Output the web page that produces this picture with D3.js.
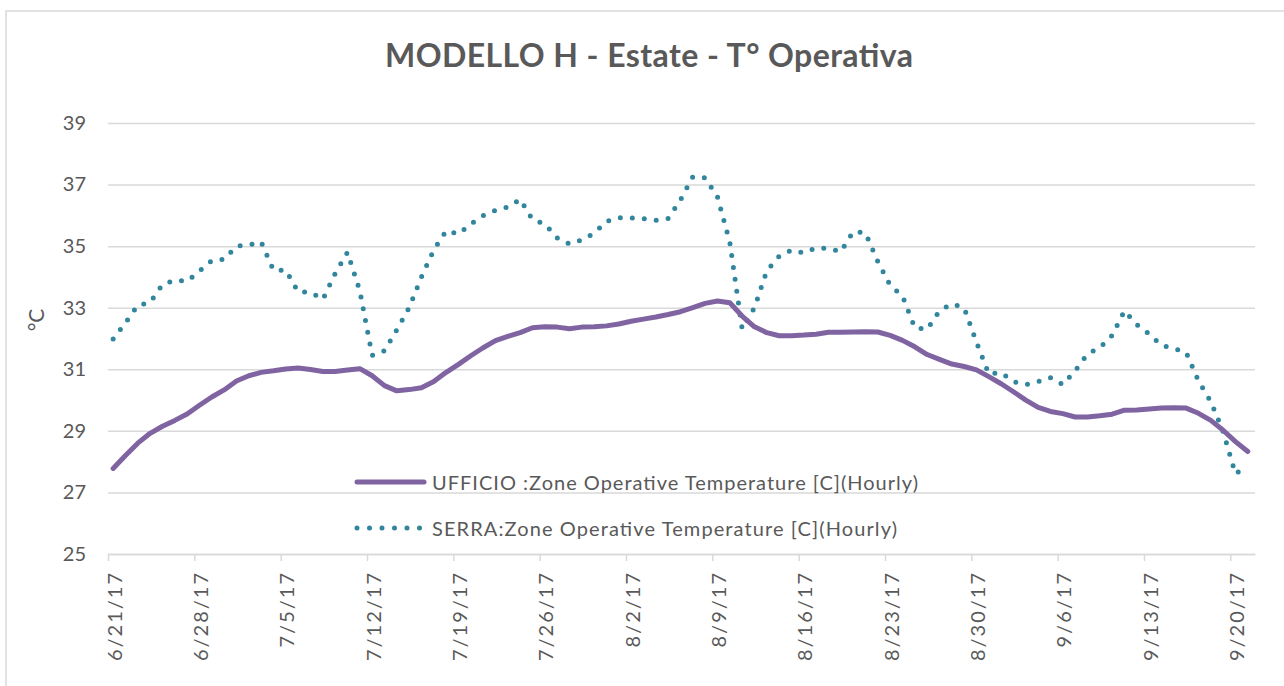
<!DOCTYPE html>
<html>
<head>
<meta charset="utf-8">
<script src="https://cdn.jsdelivr.net/npm/d3@7"></script>
<style>
  html, body { margin: 0; padding: 0; background: #fff; }
  svg { display: block; font-family: Lato, "Open Sans", sans-serif; }
</style>
</head>
<body>
<svg id="chart" width="1284" height="686"></svg>
<script>
// Chart text
const chartTitle = "MODELLO H - Estate - T° Operativa";
const yAxisTitle = "°C";
const seriesNames = [
  "UFFICIO :Zone Operative Temperature [C](Hourly)",
  "SERRA:Zone Operative Temperature [C](Hourly)"
];

// Daily series, one value per day starting 2017-06-21 (93 days)
const firstDay = new Date(2017, 5, 21);
const ufficio = [
  27.78, 28.20, 28.60, 28.92, 29.15, 29.34, 29.55, 29.83, 30.10, 30.33,
  30.62, 30.79, 30.90, 30.95, 31.01, 31.04, 30.99, 30.93, 30.93, 30.98,
  31.02, 30.79, 30.47, 30.30, 30.34, 30.40, 30.60, 30.90, 31.16, 31.44,
  31.70, 31.93, 32.07, 32.19, 32.35, 32.38, 32.37, 32.32, 32.37, 32.38,
  32.41, 32.47, 32.56, 32.63, 32.70, 32.78, 32.87, 33.00, 33.14, 33.22,
  33.16, 32.73, 32.38, 32.19, 32.09, 32.09, 32.11, 32.14, 32.20, 32.20,
  32.21, 32.22, 32.21, 32.10, 31.94, 31.73, 31.48, 31.32, 31.17, 31.09,
  30.98, 30.76, 30.53, 30.27, 30.00, 29.76, 29.63, 29.56, 29.45, 29.45,
  29.49, 29.54, 29.67, 29.68, 29.71, 29.74, 29.75, 29.74, 29.57, 29.34,
  29.02, 28.65, 28.33
];
const serra = [
  31.98, 32.51, 33.08, 33.17, 33.75, 33.89, 33.86, 34.19, 34.53, 34.57,
  35.00, 35.03, 35.14, 34.22, 34.22, 33.52, 33.50, 33.27, 34.11, 34.80,
  33.55, 31.45, 31.60, 32.28, 33.00, 34.00, 34.88, 35.50, 35.39, 35.72,
  35.99, 36.16, 36.27, 36.52, 35.86, 35.72, 35.27, 35.07, 35.20, 35.42,
  35.80, 35.92, 35.92, 35.89, 35.84, 35.90, 36.50, 37.25, 37.22, 36.60,
  35.13, 32.31, 33.00, 34.20, 34.67, 34.87, 34.78, 34.94, 34.93, 34.82,
  35.47, 35.43, 34.50, 33.73, 33.38, 32.35, 32.30, 32.90, 33.12, 33.00,
  31.88, 30.85, 30.89, 30.60, 30.50, 30.60, 30.73, 30.50, 30.95, 31.50,
  31.70, 32.10, 32.90, 32.45, 32.15, 31.78, 31.68, 31.55, 30.62, 29.95,
  28.98, 27.60, 27.90
];

// Axis settings
const yTicks = [25, 27, 29, 31, 33, 35, 37, 39];
const xTickStepDays = 7;

const colors = { ufficio: "#8064a2", serra: "#31859c", text: "#595959", grid: "#d9d9d9" };

const svg = d3.select("#chart");
const W = 1284, H = 686;
const plot = { left: 108, right: 1255, top: 123, bottom: 554 };

// each daily value is stamped mid-morning of its day
const days = ufficio.map((_, i) => d3.timeHour.offset(d3.timeDay.offset(firstDay, i), 10));
const rows = days.map((d, i) => ({ date: d, u: ufficio[i], s: serra[i] }));

const x = d3.scaleTime()
  .domain([firstDay, d3.timeDay.offset(firstDay, ufficio.length)])
  .range([plot.left, plot.right]);
const y = d3.scaleLinear().domain([25, 39]).range([plot.bottom, plot.top]);

// Outer chart frame
svg.append("rect")
  .attr("x", 6).attr("y", 11).attr("width", W + 20).attr("height", H + 20)
  .attr("fill", "none").attr("stroke", colors.grid).attr("stroke-width", 1.5);

// Title
svg.append("text")
  .attr("x", 649).attr("y", 67)
  .attr("text-anchor", "middle")
  .attr("font-size", 32).attr("font-weight", 700)
  .attr("fill", colors.text)
  .attr("textLength", 528)
  .text(chartTitle);

// Horizontal gridlines with y axis labels
const yAxis = d3.axisLeft(y).tickValues(yTicks).tickSize(-(plot.right - plot.left)).tickPadding(22);
const gy = svg.append("g").attr("transform", `translate(${plot.left},0)`).call(yAxis);
gy.select(".domain").remove();
gy.selectAll(".tick line").attr("stroke", colors.grid).attr("stroke-width", 1.5);
gy.selectAll(".tick text")
  .attr("fill", colors.text).attr("font-size", 20)
  .attr("font-family", "Lato, 'Open Sans', sans-serif");

// Date axis along the bottom
const xTickDates = d3.timeDay.range(firstDay, d3.timeDay.offset(firstDay, 92), xTickStepDays);
const xAxis = d3.axisBottom(x)
  .tickValues(xTickDates)
  .tickFormat(d3.timeFormat("%-m/%-d/%y"))
  .tickSize(7)
  .tickSizeOuter(0);
const gx = svg.append("g").attr("transform", `translate(0,${plot.bottom})`).call(xAxis);
gx.select(".domain").attr("stroke", colors.grid).attr("stroke-width", 1.5);
gx.selectAll(".tick line").attr("stroke", colors.grid).attr("stroke-width", 1.5);
gx.selectAll(".tick text")
  .attr("fill", colors.text).attr("font-size", 20)
  .attr("font-family", "Lato, 'Open Sans', sans-serif")
  .attr("letter-spacing", "2px")
  .attr("text-anchor", "end")
  .attr("dy", null)
  .attr("dominant-baseline", "central")
  .attr("transform", "translate(5,17) rotate(-90)")
  .attr("x", 0).attr("y", 0);

// y axis title
svg.append("text")
  .attr("transform", "translate(35,320) rotate(-90)")
  .attr("text-anchor", "middle")
  .attr("dominant-baseline", "central")
  .attr("font-size", 21)
  .attr("fill", colors.text)
  .text(yAxisTitle);

// Series lines
const lineU = d3.line().x(d => x(d.date)).y(d => y(d.u));
const lineS = d3.line().x(d => x(d.date)).y(d => y(d.s));

svg.append("path")
  .datum(rows)
  .attr("d", lineS)
  .attr("fill", "none")
  .attr("stroke", colors.serra)
  .attr("stroke-width", 5)
  .attr("stroke-linecap", "round")
  .attr("stroke-dasharray", "0 12");

svg.append("path")
  .datum(rows)
  .attr("d", lineU)
  .attr("fill", "none")
  .attr("stroke", colors.ufficio)
  .attr("stroke-width", 5)
  .attr("stroke-linecap", "round")
  .attr("stroke-linejoin", "round");

// Legend
const legend = svg.append("g");
const legendItems = [
  { name: seriesNames[0], color: colors.ufficio, dash: null, y: 482, len: 486 },
  { name: seriesNames[1], color: colors.serra, dash: "0 12.5", y: 528, len: 465 }
];
legendItems.forEach(item => {
  legend.append("line")
    .attr("x1", 357).attr("x2", item.dash ? 420 : 424)
    .attr("y1", item.y).attr("y2", item.y)
    .attr("stroke", item.color).attr("stroke-width", 5)
    .attr("stroke-linecap", "round")
    .attr("stroke-dasharray", item.dash);
  legend.append("text")
    .attr("x", 432).attr("y", item.y)
    .attr("dominant-baseline", "central")
    .attr("font-size", 20)
    .attr("fill", colors.text)
    .attr("textLength", item.len)
    .text(item.name);
});
</script>
</body>
</html>
